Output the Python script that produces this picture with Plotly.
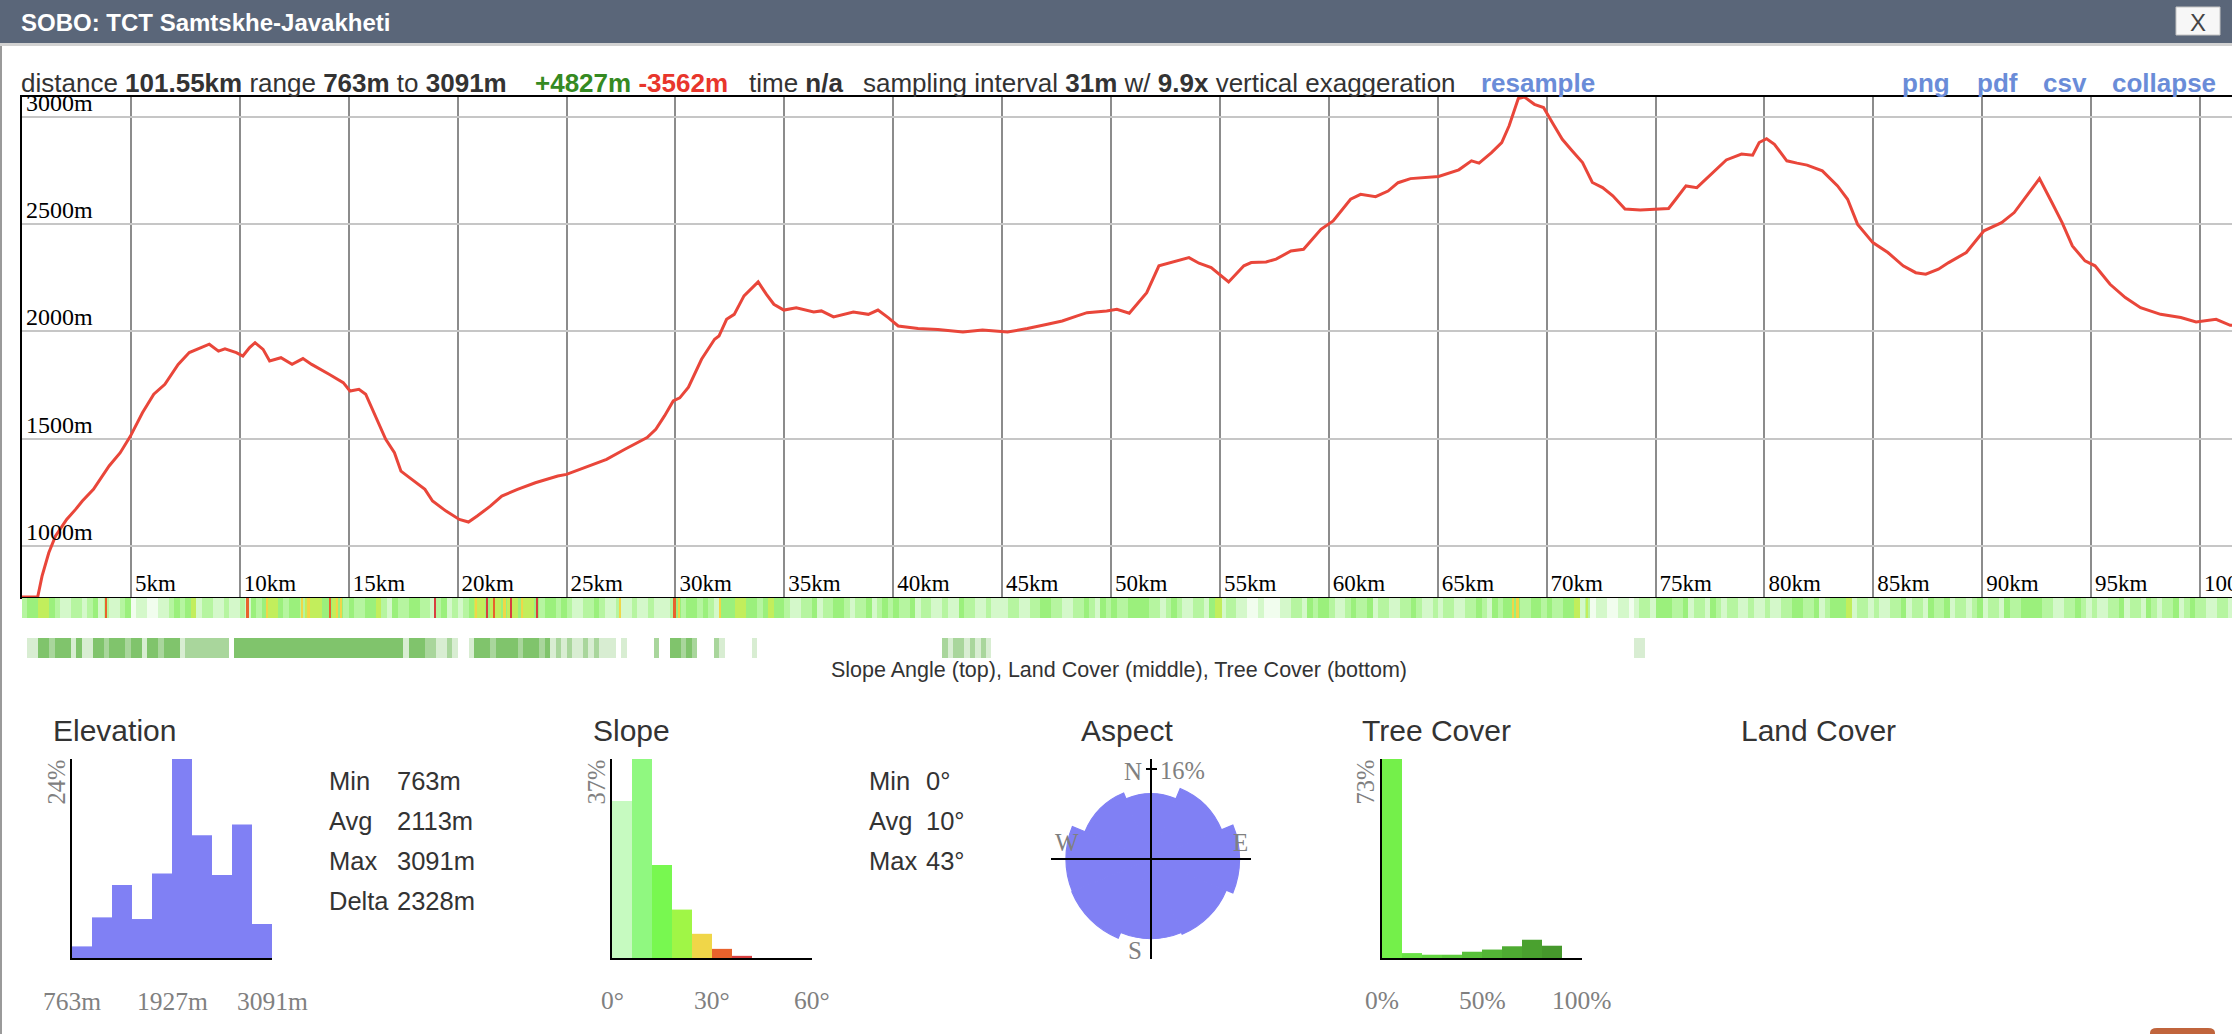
import math
import plotly.graph_objects as go

W, H = 2232, 1034
def px(x): return x / W
def py(y): return 1 - y / H

SANS = "Liberation Sans, Arial, Helvetica, sans-serif"
SERIF = "Liberation Serif, Times New Roman, Times, serif"
TEXT = "#333333"
GRAY = "#808080"

# ---------------- data ----------------
track_name = "SOBO: TCT Samtskhe-Javakheti"
total_km = 101.55
elev_min, elev_max = 763, 3091
gain_m, loss_m = 4827, 3562
sample_m, vexag = 31, 9.9

dist_km = [
 0.00, 0.72, 0.92, 1.23, 1.54, 2.05, 2.46, 2.77, 3.28, 3.69,
 4.00, 4.51, 4.98, 5.53, 6.05, 6.56, 7.17, 7.68, 8.40, 8.60,
 9.02, 9.32, 9.84, 10.14, 10.45, 10.70, 11.07, 11.37, 11.89, 12.40,
 12.90, 13.30, 14.10, 14.75, 15.06, 15.47, 15.78, 16.09, 16.40, 16.70,
 17.10, 17.40, 17.70, 18.10, 18.50, 18.85, 19.47, 20.08, 20.50, 20.90,
 21.50, 22.03, 22.75, 23.57, 24.60, 25.00, 25.60, 26.20, 26.84, 27.66,
 28.70, 29.10, 29.50, 29.90, 30.20, 30.60, 31.20, 31.80, 32.00, 32.35,
 32.70, 33.15, 33.80, 34.18, 34.52, 34.98, 35.55, 36.35, 36.70, 37.26,
 38.17, 38.86, 39.30, 39.77, 40.23, 41.14, 42.05, 43.20, 44.10, 45.25,
 46.16, 47.08, 47.76, 48.45, 48.90, 49.80, 50.27, 50.84, 51.19, 51.64,
 52.20, 53.00, 53.58, 54.04, 54.60, 55.40, 56.10, 56.44, 57.12, 57.58,
 58.26, 58.84, 59.64, 60.20, 61.00, 61.46, 62.15, 62.72, 63.18, 63.75,
 64.43, 65.04, 65.97, 66.55, 66.90, 67.47, 67.94, 68.28, 68.70, 68.98,
 69.44, 69.86, 70.26, 70.72, 71.18, 71.65, 72.10, 72.57, 73.04, 73.60,
 74.30, 75.60, 75.93, 76.40, 76.90, 77.56, 78.25, 78.95, 79.46, 79.76,
 80.10, 80.46, 81.03, 81.50, 81.96, 82.66, 83.36, 83.82, 84.28, 84.98,
 85.67, 86.37, 86.95, 87.41, 87.99, 88.46, 89.27, 90.08, 90.89, 91.47,
 92.05, 92.63, 93.20, 93.67, 94.14, 94.72, 95.18, 95.87, 96.57, 97.27,
 98.19, 99.12, 99.82, 100.74, 101.39, 101.55,
]
elev_m = [
 763, 763, 860, 969, 1047, 1124, 1171, 1210, 1264, 1326,
 1373, 1435, 1512, 1621, 1707, 1753, 1846, 1901, 1932, 1940,
 1908, 1919, 1901, 1885, 1924, 1947, 1916, 1862, 1877, 1846,
 1873, 1846, 1800, 1761, 1722, 1730, 1707, 1637, 1559, 1497,
 1435, 1349, 1326, 1295, 1264, 1210, 1163, 1124, 1112, 1140,
 1186, 1233, 1264, 1295, 1326, 1334, 1357, 1380, 1404, 1450,
 1505, 1544, 1606, 1676, 1690, 1740, 1870, 1963, 1978, 2056,
 2079, 2165, 2230, 2172, 2126, 2099, 2110, 2090, 2095, 2067,
 2090, 2079, 2099, 2064, 2025, 2013, 2009, 1997, 2006, 1997,
 2013, 2033, 2048, 2072, 2087, 2095, 2103, 2084, 2126, 2180,
 2305, 2328, 2343, 2317, 2297, 2230, 2305, 2320, 2323, 2336,
 2374, 2382, 2475, 2514, 2615, 2638, 2627, 2653, 2692, 2711,
 2716, 2721, 2752, 2794, 2783, 2832, 2879, 2957, 3084, 3091,
 3057, 3042, 2972, 2894, 2840, 2786, 2693, 2669, 2631, 2569,
 2565, 2572, 2615, 2677, 2669, 2732, 2798, 2825, 2820, 2879,
 2897, 2871, 2794, 2783, 2774, 2747, 2677, 2615, 2498, 2413,
 2367, 2305, 2273, 2266, 2289, 2320, 2367, 2468, 2506, 2553,
 2631, 2711, 2600, 2506, 2398, 2328, 2305, 2219, 2157, 2110,
 2079, 2064, 2044, 2056, 2028, 2028,
]

grid_km = list(range(5, 101, 5))
grid_km_labels = [f"{k}km" for k in grid_km]
elev_ticks = [1000, 1500, 2000, 2500, 3000]
elev_tick_labels = ["1000m", "1500m", "2000m", "2500m", "3000m"]

# slope class per 0.25 km (0 flat .. 4 moderate), one 20-char group per 5 km
STRIP_STEP_KM = 0.25
slope_base = (
    "23344321122123121123" "01100112323412211211" "21323443233244433432"
    "32233421322332212312" "12344344344344323323" "21122321121121121112"
    "32332321333443323433" "21122312233212231232" "32231221121132211211"
    "12211223322112232132" "32233332212321122134" "12211001000112213233"
    "21123223122112232112" "12211223213233322332" "32233412011001101221"
    "33322312213212211211" "21122332231233341221" "21122312213223122123"
    "12213223333221122321" "21122312213212231232" "21122112"
)
# thin steep stripes (km, class)
slope_spike_km = [1.1, 3.8, 10.3, 11.2, 12.8, 13.1, 14.1, 14.4, 14.6, 18.9,
                  20.8, 21.3, 21.6, 22.1, 22.4, 22.9, 23.6, 27.4, 29.9, 30.1,
                  32.0, 55.0, 68.4, 68.6, 71.8]
slope_spike_code = [4, 6, 6, 5, 5, 5, 6, 5, 5, 7,
                    5, 7, 6, 5, 7, 5, 7, 5, 6, 5,
                    5, 4, 5, 5, 4]
slope_strip_colors = ["#f1fdee", "#d4f8ca", "#b6f5a0", "#9bf07c", "#c2ee5c",
                      "#f0d648", "#e8622c", "#d84040"]

# tree cover class per 0.25 km (0 none, 1 sparse, 2 medium, 3 dense)
tree_base = (
    "01133233313113323332" "33133233312222222203" "33333333333333333333"
    "33333333331333221121" "00133323333233323121" "21121211101000002003"
    "32320002100000100000" "00000000000000000000" "00000000021221212100"
    "00000000000000000000" "00000000000000000000" "00000000000000000000"
    "00000000000000000000" "00000000000000000000" "00000000000000001100"
    "00000000000000000000" "00000000000000000000" "00000000000000000000"
    "00000000000000000000" "00000000000000000000" "00000000"
)
tree_strip_colors = ["#d8edd2", "#a9d69c", "#80c46c"]

elev_hist_pct = [1.4, 4.9, 8.8, 4.7, 10.2, 24.0, 14.8, 10.0, 16.1, 4.1]
elev_hist_ticks = [763, 1927, 3091]
elev_hist_labels = ["763m", "1927m", "3091m"]
elev_stat_names = ["Min", "Avg", "Max", "Delta"]
elev_stat_values = ["763m", "2113m", "3091m", "2328m"]

slope_hist_pct = [29.2, 37.0, 17.3, 9.0, 4.5, 1.7, 0.4, 0.0, 0.0, 0.0]
slope_hist_colors = ["#c6fac0", "#90f880", "#78f850", "#a0f646", "#f0d648",
                     "#e8622c", "#d84040", "#d84040", "#d84040", "#d84040"]
slope_hist_ticks = [0, 30, 60]
slope_hist_labels = ["0°", "30°", "60°"]
slope_stat_names = ["Min", "Avg", "Max"]
slope_stat_values = ["0°", "10°", "43°"]

aspect_deg = [0, 45, 90, 135, 180, 225, 270, 315]
aspect_pct = [8.4, 11.5, 15.5, 13.1, 12.5, 14.5, 14.3, 10.1]
aspect_max_label = "16%"

tree_hist_pct = [73.0, 1.8, 1.2, 1.2, 2.3, 3.1, 4.3, 6.7, 4.5, 0.0]
tree_hist_colors = ["#74f04a", "#6ae246", "#64d642", "#5ecb3e", "#58c03a",
                    "#53b536", "#4eab32", "#4aa12f", "#46982c", "#42902a"]
tree_hist_ticks = [0, 50, 100]
tree_hist_labels = ["0%", "50%", "100%"]

# ---------------- layout constants ----------------
PLOT_L, PLOT_T, PLOT_B = 22, 97, 597
PX_PER_KM = 21.78
x_max_km = (W - PLOT_L) / PX_PER_KM
lab_dx = 4 / PX_PER_KM

HIST_T, HIST_B = 759, 958

fig = go.Figure()

# elevation profile
fig.add_trace(go.Scatter(x=dist_km, y=elev_m, mode="lines",
                         line=dict(color="#e9463a", width=3),
                         hoverinfo="skip", xaxis="x", yaxis="y"))
# y tick labels inside the plot (clipped by plot area)
fig.add_trace(go.Scatter(x=[lab_dx] * len(elev_ticks), y=elev_ticks, mode="text",
                         text=elev_tick_labels, textposition="top right",
                         textfont=dict(family=SERIF, size=24, color="black"),
                         cliponaxis=True, hoverinfo="skip", xaxis="x", yaxis="y"))
# x tick labels inside the plot bottom
fig.add_trace(go.Scatter(x=[k + lab_dx for k in grid_km], y=[elev_min] * len(grid_km),
                         mode="text", text=grid_km_labels, textposition="top right",
                         textfont=dict(family=SERIF, size=23, color="black"),
                         cliponaxis=True, hoverinfo="skip", xaxis="x", yaxis="y"))

def discrete_scale(colors):
    n = len(colors)
    cs = []
    for i, c in enumerate(colors):
        cs.append([i / n, c])
        cs.append([(i + 1) / n, c])
    return cs

cell = 0.05
per = int(round(STRIP_STEP_KM / cell))
n_cells = len(slope_base) * per
slope_z = [int(slope_base[i // per]) for i in range(n_cells)]
for k, c in zip(slope_spike_km, slope_spike_code):
    j = int(round(k / cell))
    slope_z[j] = c
    slope_z[j + 1] = c
n_tree = len(tree_base) * per
tree_z = [None if tree_base[i // per] == "0" else int(tree_base[i // per]) for i in range(n_tree)]

fig.add_trace(go.Heatmap(z=[slope_z], x0=cell / 2, dx=cell, y0=0, dy=1,
                         colorscale=discrete_scale(slope_strip_colors),
                         zmin=-0.5, zmax=len(slope_strip_colors) - 0.5,
                         showscale=False, hoverinfo="skip", xaxis="x2", yaxis="y2"))
fig.add_trace(go.Heatmap(z=[tree_z], x0=cell / 2, dx=cell, y0=0, dy=1,
                         colorscale=discrete_scale(tree_strip_colors),
                         zmin=0.5, zmax=len(tree_strip_colors) + 0.5,
                         showscale=False, hoverinfo="skip", xaxis="x2", yaxis="y3"))

# histograms
ebw = (elev_max - elev_min) / len(elev_hist_pct)
fig.add_trace(go.Bar(x=[elev_min + (i + 0.5) * ebw for i in range(len(elev_hist_pct))],
                     y=elev_hist_pct, width=ebw, marker=dict(color="#8080f4", line=dict(width=0)),
                     hoverinfo="skip", xaxis="x4", yaxis="y4"))
sbw = 60 / len(slope_hist_pct)
fig.add_trace(go.Bar(x=[(i + 0.5) * sbw for i in range(len(slope_hist_pct))],
                     y=slope_hist_pct, width=sbw,
                     marker=dict(color=slope_hist_colors, line=dict(width=0)),
                     hoverinfo="skip", xaxis="x5", yaxis="y5"))
tbw = 100 / len(tree_hist_pct)
fig.add_trace(go.Bar(x=[(i + 0.5) * tbw for i in range(len(tree_hist_pct))],
                     y=tree_hist_pct, width=tbw,
                     marker=dict(color=tree_hist_colors, line=dict(width=0)),
                     hoverinfo="skip", xaxis="x6", yaxis="y6"))

# aspect rose (radius ~ sqrt of share)
ASP_CX, ASP_CY, ASP_R = 1151, 859, 100
r_scale = math.sqrt(16) / 0.9
fig.add_trace(go.Barpolar(r=[math.sqrt(p) for p in aspect_pct], theta=aspect_deg,
                          width=[45] * len(aspect_deg),
                          marker=dict(color="#8080f4", line=dict(color="#8080f4", width=1.2)),
                          hoverinfo="skip", subplot="polar"))

hist_axis = dict(showline=True, linecolor="black", linewidth=2, showgrid=False,
                 zeroline=False, showticklabels=False, ticks="", fixedrange=True)

layout = dict(
    width=W, height=H, autosize=False,
    margin=dict(l=0, r=0, t=0, b=0, pad=0),
    paper_bgcolor="white", plot_bgcolor="white",
    showlegend=False, hovermode=False,
    xaxis=dict(domain=[px(PLOT_L), 1], range=[0, x_max_km], tick0=0, dtick=5,
               showgrid=True, gridcolor="#8c8c8c", gridwidth=2,
               showline=True, mirror=True, linecolor="black", linewidth=2,
               showticklabels=False, ticks="", zeroline=False, layer="below traces"),
    yaxis=dict(domain=[py(PLOT_B), py(PLOT_T)], range=[elev_min, elev_max],
               tickvals=elev_ticks, showgrid=True, gridcolor="#c6c6c6", gridwidth=2,
               showline=True, linecolor="black", linewidth=2,
               showticklabels=False, ticks="", zeroline=False, layer="below traces"),
    xaxis2=dict(domain=[px(PLOT_L), 1], range=[0, x_max_km], visible=False, anchor="y2"),
    yaxis2=dict(domain=[py(618), py(598)], range=[-0.5, 0.5], visible=False, anchor="x2"),
    yaxis3=dict(domain=[py(658), py(638)], range=[-0.5, 0.5], visible=False, anchor="x2"),
    xaxis4=dict(domain=[px(72), px(272)], range=[elev_min, elev_max], anchor="y4", **hist_axis),
    yaxis4=dict(domain=[py(HIST_B), py(HIST_T)], range=[0, max(elev_hist_pct)], anchor="x4", **hist_axis),
    xaxis5=dict(domain=[px(612), px(812)], range=[0, 60], anchor="y5", **hist_axis),
    yaxis5=dict(domain=[py(HIST_B), py(HIST_T)], range=[0, max(slope_hist_pct)], anchor="x5", **hist_axis),
    xaxis6=dict(domain=[px(1382), px(1582)], range=[0, 100], anchor="y6", **hist_axis),
    yaxis6=dict(domain=[py(HIST_B), py(HIST_T)], range=[0, max(tree_hist_pct)], anchor="x6", **hist_axis),
    polar=dict(domain=dict(x=[px(ASP_CX - ASP_R), px(ASP_CX + ASP_R)],
                           y=[py(ASP_CY + ASP_R), py(ASP_CY - ASP_R)]),
               bgcolor="rgba(0,0,0,0)",
               radialaxis=dict(visible=False, range=[0, r_scale], showgrid=False, showline=False),
               angularaxis=dict(visible=False, rotation=90, direction="clockwise",
                                showgrid=False, showline=False)),
)

shapes = [
    dict(type="rect", xref="paper", yref="paper", x0=0, x1=1, y0=py(43), y1=1,
         fillcolor="#5a6679", line=dict(width=0), layer="below"),
    dict(type="rect", xref="paper", yref="paper", x0=0, x1=1, y0=py(46), y1=py(43),
         fillcolor="#d2d2d2", line=dict(width=0), layer="below"),
    dict(type="line", xref="paper", yref="paper", x0=px(1), x1=px(1), y0=py(46), y1=0,
         line=dict(color="#9a9a9a", width=2)),
    dict(type="rect", xref="paper", yref="paper", x0=px(2176), x1=px(2220), y0=py(35), y1=py(7),
         fillcolor="#f7f7f7", line=dict(color="#c4c4c4", width=1)),
    # aspect cross
    dict(type="line", xref="paper", yref="paper", x0=px(ASP_CX), x1=px(ASP_CX),
         y0=py(ASP_CY - ASP_R), y1=py(ASP_CY + ASP_R), line=dict(color="black", width=2)),
    dict(type="line", xref="paper", yref="paper", x0=px(ASP_CX - ASP_R), x1=px(ASP_CX + ASP_R),
         y0=py(ASP_CY), y1=py(ASP_CY), line=dict(color="black", width=2)),
    dict(type="line", xref="paper", yref="paper", x0=px(ASP_CX - 5), x1=px(ASP_CX + 6),
         y0=py(ASP_CY - 90), y1=py(ASP_CY - 90), line=dict(color="black", width=2)),
    # orange tab bottom right
    dict(type="path", xref="paper", yref="paper",
         path=(f"M {px(2150)},{py(1034)} L {px(2150)},{py(1033)} Q {px(2150)},{py(1028)} {px(2157)},{py(1028)} "
               f"L {px(2208)},{py(1028)} Q {px(2215)},{py(1028)} {px(2215)},{py(1033)} L {px(2215)},{py(1034)} Z"),
         fillcolor="#c0643c", line=dict(width=0)),
]
layout["shapes"] = shapes

anns = []
def add_text(text, x, y, size, color=TEXT, family=SANS, xanchor="left",
             yanchor="middle", textangle=0, xref="paper"):
    anns.append(dict(text=text, x=(px(x) if xref == "paper" else x), y=py(y),
                     xref=xref, yref="paper", showarrow=False,
                     font=dict(family=family, size=size, color=color),
                     xanchor=xanchor, yanchor=yanchor, textangle=textangle,
                     borderpad=0, borderwidth=0))

# header
add_text(f"<b>{track_name}</b>", 21, 22, 24, color="white")
add_text("X", 2198, 22, 24, color="#444444", xanchor="center")

# summary line
add_text(f"distance <b>{total_km:.2f}km</b> range <b>{elev_min}m</b> to <b>{elev_max}m</b>", 21, 83, 26)
add_text(f"<span style='color:#358a22'><b>+{gain_m}m</b></span> "
         f"<span style='color:#e8362c'><b>-{loss_m}m</b></span>", 535, 83, 26)
add_text("time <b>n/a</b>", 749, 83, 26)
add_text(f"sampling interval <b>{sample_m}m</b> w/ <b>{vexag}x</b> vertical exaggeration", 862.6, 83, 26)
LINK = "#6a8cd8"
for t, x in [("resample", 1481), ("png", 1902), ("pdf", 1977), ("csv", 2043), ("collapse", 2112)]:
    add_text(f"<b>{t}</b>", x, 83, 26, color=LINK)

# strip caption
add_text("Slope Angle (top), Land Cover (middle), Tree Cover (bottom)", 1119, 670, 21.5,
         xanchor="center")

# panel titles
for t, x in [("Elevation", 53), ("Slope", 593), ("Aspect", 1081), ("Tree Cover", 1362), ("Land Cover", 1741)]:
    add_text(t, x, 730, 30)

# histogram tick labels
for v, t in zip(elev_hist_ticks, elev_hist_labels):
    add_text(t, v, 1001, 25.5, color=GRAY, family=SERIF, xanchor="center", xref="x4")
for v, t in zip(slope_hist_ticks, slope_hist_labels):
    add_text(t, v, 1000, 25.5, color=GRAY, family=SERIF, xanchor="center", xref="x5")
for v, t in zip(tree_hist_ticks, tree_hist_labels):
    add_text(t, v, 1000, 25.5, color=GRAY, family=SERIF, xanchor="center", xref="x6")

# rotated max labels
add_text(f"{max(elev_hist_pct):.0f}%", 56, 760, 24.5, color=GRAY, family=SERIF,
         xanchor="center", yanchor="top", textangle=-90)
add_text(f"{max(slope_hist_pct):.0f}%", 596, 760, 24.5, color=GRAY, family=SERIF,
         xanchor="center", yanchor="top", textangle=-90)
add_text(f"{max(tree_hist_pct):.0f}%", 1365, 760, 24.5, color=GRAY, family=SERIF,
         xanchor="center", yanchor="top", textangle=-90)

# stats
for i, (n, v) in enumerate(zip(elev_stat_names, elev_stat_values)):
    y = 781 + i * 40
    add_text(n, 328.6, y, 25.5)
    add_text(v, 397, y, 25.5)
for i, (n, v) in enumerate(zip(slope_stat_names, slope_stat_values)):
    y = 781 + i * 40
    add_text(n, 869, y, 25.5)
    add_text(v, 925.5, y, 25.5)

# aspect compass labels
add_text("N", 1142, 771, 25, color=GRAY, family=SERIF, xanchor="right")
add_text(aspect_max_label, 1160, 770, 24.5, color=GRAY, family=SERIF)
add_text("S", 1142, 950, 25, color=GRAY, family=SERIF, xanchor="right")
add_text("W", 1055, 842, 25, color=GRAY, family=SERIF)
add_text("E", 1248, 842, 25, color=GRAY, family=SERIF, xanchor="right")

layout["annotations"] = anns
fig.update_layout(**layout)

fig.write_html("out.html", include_plotlyjs=True,
               config={"displayModeBar": False, "responsive": False},
               post_script="document.body.style.margin='0';document.body.style.overflow='hidden';")
